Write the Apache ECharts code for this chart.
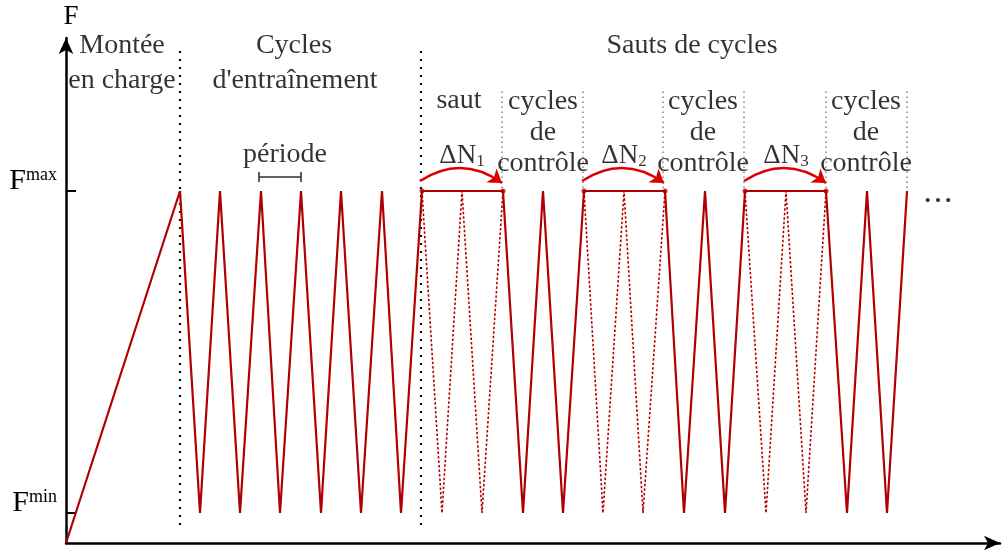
<!DOCTYPE html>
<html>
<head>
<meta charset="utf-8">
<script src="https://cdn.jsdelivr.net/npm/echarts@6/dist/echarts.min.js"></script>
<style>html,body{margin:0;padding:0;background:#fff}#c{width:1007px;height:553px}</style>
</head>
<body>
<div id="c"></div>
<script>
// ---- data (time in arbitrary units, force in arbitrary units) ----
const F_MIN = 30;
const F_MAX = 352;
// solid loading path: ramp, training cycles, jumps (flat), control cycles
const solidPath = [
  [0,0],[114,352],[134,30],[154,352],[174,30],[195,352],[214,30],[235,352],
  [255,30],[275,352],[295,30],[316,352],[335,30],[356,352],[437,352],
  [457,30],[477,352],[497,30],[518,352],[599,352],[618,30],[639,352],
  [659,30],[679,352],[760,352],[781,30],[801,352],[821,30],[841,352]
];
// skipped cycles (dotted) in each jump
const skipped1 = [[356,352],[376,30],[396,352],[416,30],[437,352]];
const skipped2 = [[518,352],[537,30],[558,352],[577,30],[599,352]];
const skipped3 = [[679,352],[700,30],[720,352],[740,30],[760,352]];
const jumpEnds = [[356,352],[437,352],[518,352],[599,352],[679,352],[760,352]];
// phase boundaries
const phaseBounds = [114, 355];
const ctrlBounds = [436, 517, 597, 678, 760, 841];
// jump arrows
const jumpArrows = [[[354,362],[436,360]],[[516,362],[598,360]],[[678,362],[760,360]]];
const jumpLabels = ['1','2','3'];
const periodBracket = [[193,371],[193,361],[193,366],[235,366],[235,371],[235,361]];
const yTickValues = [30, 352];
const yTickLabels = ['min', 'max'];

// annotation texts
const annotText = ['Montée','en charge','Cycles',"d'entraînement",'Sauts de cycles','saut',
  'cycles\nde\ncontrôle','cycles\nde\ncontrôle','cycles\nde\ncontrôle','période'];
const annotX = [56, 56, 228, 229, 626, 393, 477, 637, 800, 219];
const annotY = [497, 462, 497, 462, 497, 442, 410, 410, 410, 388];
const deltaX = [396, 558, 720];
const deltaY = [387, 387, 387];
const ellipsis = [[872, 341]];

const RED = '#b00000';
const ARC = '#dd0000';
const SERIF = 'Liberation Serif';

const chart = echarts.init(document.getElementById('c'));

const vline = [];
phaseBounds.forEach(x => { vline.push([x, 18], [x, 498], null); });
const cline = [];
ctrlBounds.forEach(x => { cline.push([x, 355], [x, 455], null); });

const option = {
  animation: false,
  backgroundColor: '#fff',
  grid: { left: 66, right: 7, top: 38, bottom: 10 },
  xAxis: {
    type: 'value', min: 0, max: 934,
    axisLine: { show: true, lineStyle: { color: '#000', width: 2.5 }, symbol: ['none','arrow'], symbolSize: [11, 16] },
    axisTick: { show: false }, axisLabel: { show: false }, splitLine: { show: false }
  },
  yAxis: {
    type: 'value', min: 0, max: 505,
    name: 'F', nameLocation: 'end', nameGap: 8,
    nameTextStyle: { fontFamily: SERIF, fontSize: 27, color: '#000', align: 'center', padding: [0,0,0,10] },
    axisLine: { show: true, lineStyle: { color: '#000', width: 2.5 }, symbol: ['none','arrow'], symbolSize: [11, 16] },
    axisTick: { show: true, inside: true, length: 10, customValues: yTickValues, lineStyle: { color: '#000', width: 2 } },
    axisLabel: {
      show: true, customValues: yTickValues, margin: 9,
      formatter: v => '{F|F}{s|' + yTickLabels[yTickValues.indexOf(v)] + '}',
      rich: {
        F: { fontFamily: SERIF, fontSize: 30, color: '#000', lineHeight: 25, verticalAlign: 'top' },
        s: { fontFamily: SERIF, fontSize: 18, color: '#000', lineHeight: 16, verticalAlign: 'top' }
      },
      verticalAlign: 'bottom'
    },
    splitLine: { show: false }
  },
  series: [
    { type: 'line', data: vline, symbol: 'none', connectNulls: false,
      lineStyle: { color: '#111', width: 2.2, type: [2, 6] }, z: 1 },
    { type: 'line', data: cline, symbol: 'none', connectNulls: false,
      lineStyle: { color: '#666', width: 1.2, type: [1.5, 3.5] }, z: 1 },
    { type: 'line', data: skipped1, symbol: 'none', lineStyle: { color: RED, width: 1.6, type: [2.5, 2] }, z: 2 },
    { type: 'line', data: skipped2, symbol: 'none', lineStyle: { color: RED, width: 1.6, type: [2.5, 2] }, z: 2 },
    { type: 'line', data: skipped3, symbol: 'none', lineStyle: { color: RED, width: 1.6, type: [2.5, 2] }, z: 2 },
    { type: 'line', data: solidPath, symbol: 'none', lineStyle: { color: RED, width: 2.2 }, z: 3 },
    { type: 'scatter', data: jumpEnds, symbol: 'circle', symbolSize: 5, itemStyle: { color: RED }, z: 4 },
    { type: 'line', data: periodBracket, symbol: 'none', lineStyle: { color: '#333', width: 1.6 }, z: 3 },
    { type: 'lines', coordinateSystem: 'cartesian2d',
      data: jumpArrows.map(c => ({ coords: c })),
      symbol: ['none', 'arrow'], symbolSize: 13,
      lineStyle: { color: ARC, width: 2.5, curveness: 0.34, opacity: 1 }, z: 5 },
    { type: 'scatter', symbolSize: 0, z: 6,
      data: annotX.map((x, i) => ({ value: [x, annotY[i]], name: annotText[i] })),
      label: { show: true, position: 'inside', formatter: p => p.name,
        fontFamily: SERIF, fontSize: 28, color: '#000', lineHeight: 31, align: 'center' } },
    { type: 'scatter', symbolSize: 0, z: 6,
      data: deltaX.map((x, i) => ({ value: [x, deltaY[i]], name: jumpLabels[i] })),
      label: { show: true, position: 'inside', formatter: p => '{a|ΔN}{b|' + p.name + '}',
        rich: {
          a: { fontFamily: SERIF, fontSize: 27, color: '#000', lineHeight: 28, verticalAlign: 'top' },
          b: { fontFamily: SERIF, fontSize: 17, color: '#000', lineHeight: 17, verticalAlign: 'bottom' }
        } } },
    { type: 'scatter', symbolSize: 0, z: 6, data: ellipsis,
      label: { show: true, position: 'inside', formatter: '• • •', fontFamily: SERIF,
        fontSize: 17, color: '#000' } }
  ]
};
chart.setOption(option);
</script>
</body>
</html>
